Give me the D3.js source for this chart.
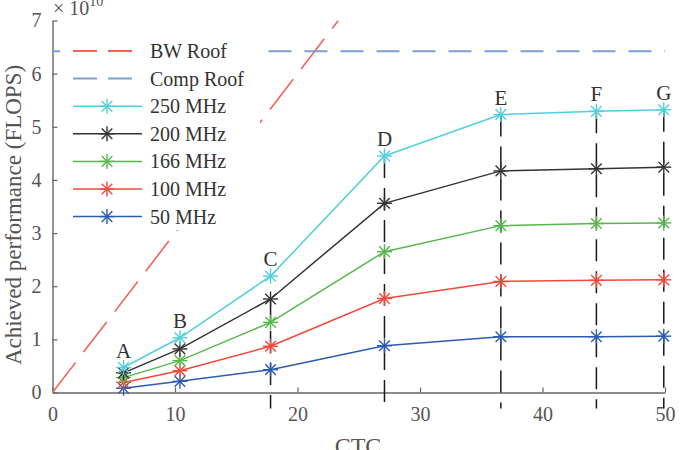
<html>
<head>
    <meta charset="UTF-8">
    <title>Roofline</title>
    <script src="https://d3js.org/d3.v7.min.js"></script>
    <style>
        body { margin: 0; background: #fff; }
        text { font-family: "Liberation Serif", "DejaVu Serif", serif; }
    </style>
</head>
<body>
    <svg width="682" height="450"></svg>
    <script>
        // data (performance in units of 1e10 FLOPS)
        var points = ['A', 'B', 'C', 'D', 'E', 'F', 'G'];
        var ctc = [5.8, 10.4, 17.8, 27.1, 36.6, 44.4, 49.9];
        var f250 = [0.47, 1.03, 2.19, 4.45, 5.23, 5.29, 5.32];
        var f200 = [0.37, 0.82, 1.76, 3.56, 4.17, 4.21, 4.24];
        var f166 = [0.28, 0.60, 1.32, 2.65, 3.14, 3.18, 3.19];
        var f100 = [0.19, 0.41, 0.87, 1.77, 2.09, 2.11, 2.12];
        var f50 = [0.08, 0.21, 0.43, 0.88, 1.05, 1.05, 1.06];
        var seriesNames = ['250 MHz', '200 MHz', '166 MHz', '100 MHz', '50 MHz'];
        var dropFrom = [null, null, '200 MHz', '250 MHz', '250 MHz', '250 MHz', '250 MHz']; // dashed drop lines
        var bwSlope = 0.3;   // BW roof, per unit CTC
        var compRoof = 6.42;
        var xTicks = [0, 10, 20, 30, 40, 50];
        var yTicks = [0, 1, 2, 3, 4, 5, 6, 7];

        var colors = { '250 MHz': '#52cfdf', '200 MHz': '#333333', '166 MHz': '#55b84b',
                       '100 MHz': '#f2493b', '50 MHz': '#2b5bb3' };
        var bwColor = '#f06459', compColor = '#7a9ed6';

        var margin = { top: 20.5, right: 17, bottom: 57.5, left: 52.5 },
            svg = d3.select('svg'),
            width = +svg.attr('width') - margin.left - margin.right,
            height = +svg.attr('height') - margin.top - margin.bottom,
            g = svg.append('g').attr('transform', 'translate(' + margin.left + ',' + margin.top + ')');

        var x = d3.scaleLinear().domain([0, 50]).range([0, width]);
        var y = d3.scaleLinear().domain([0, 7]).range([height, 0]);

        var table = {
            '250 MHz': f250, '200 MHz': f200, '166 MHz': f166, '100 MHz': f100, '50 MHz': f50
        };
        var series = seriesNames.map(function(n) {
            return { name: n, values: ctc.map(function(c, i) { return { x: c, y: table[n][i] }; }) };
        });

        svg.append('defs').append('clipPath').attr('id', 'plot')
            .append('rect').attr('x', -2).attr('y', 0).attr('width', width + 4).attr('height', height + 2);

        // axes
        var axisColor = '#666';
        var xAxis = g.append('g').attr('transform', 'translate(0,' + height + ')')
            .call(d3.axisBottom(x).tickValues(xTicks).tickFormat(d3.format('d'))
                .tickSizeInner(-5).tickSizeOuter(0).tickPadding(14));
        var yAxis = g.append('g')
            .call(d3.axisLeft(y).tickValues(yTicks).tickFormat(d3.format('d'))
                .tickSizeInner(-5).tickSizeOuter(0).tickPadding(11));
        [xAxis, yAxis].forEach(function(a) {
            a.select('.domain').attr('stroke', axisColor).attr('stroke-width', 1.4);
            a.selectAll('.tick line').attr('stroke', axisColor).attr('stroke-width', 1.2);
            a.selectAll('.tick text').attr('fill', '#555').style('font-size', '20px')
                .style('font-family', '"Liberation Serif", serif');
        });
        xAxis.selectAll('.tick text').attr('dy', '0.71em');

        // roof lines
        var line = d3.line().x(function(d) { return x(d.x); }).y(function(d) { return y(d.y); });
        var bwEnd = Math.min(50, 7 / bwSlope);
        g.append('path').datum([{ x: 0, y: 0 }, { x: bwEnd, y: bwEnd * bwSlope }])
            .attr('d', line).attr('fill', 'none').attr('stroke', bwColor)
            .attr('stroke-width', 1.6).attr('stroke-dasharray', '38,13').attr('clip-path', 'url(#plot)');
        g.append('path').datum([{ x: 0, y: compRoof }, { x: 50, y: compRoof }])
            .attr('d', line).attr('fill', 'none').attr('stroke', compColor)
            .attr('stroke-width', 2).attr('stroke-dasharray', '23,13');

        // dashed drop lines
        ctc.forEach(function(c, i) {
            if (!dropFrom[i]) return;
            g.append('path').datum([{ x: c, y: table[dropFrom[i]][i] }, { x: c, y: -0.3 }])
                .attr('d', line).attr('fill', 'none').attr('stroke', '#1a1a1a')
                .attr('stroke-width', 1.5).attr('stroke-dasharray', '22,10');
        });

        // asterisk marker
        function star(sel, r) {
            [0, 45, 90, 135].forEach(function(a) {
                var t = a * Math.PI / 180;
                sel.append('line')
                    .attr('x1', -r * Math.cos(t)).attr('y1', -r * Math.sin(t))
                    .attr('x2', r * Math.cos(t)).attr('y2', r * Math.sin(t));
            });
        }

        // series (drawn low to high so the top ones sit above)
        series.slice().reverse().forEach(function(s) {
            g.append('path').datum(s.values).attr('d', line)
                .attr('fill', 'none').attr('stroke', colors[s.name]).attr('stroke-width', 1.5);
            s.values.forEach(function(d) {
                var m = g.append('g').attr('transform', 'translate(' + x(d.x) + ',' + y(d.y) + ')')
                    .attr('stroke', colors[s.name]).attr('stroke-width', 1.4);
                star(m, 7.5);
            });
        });

        // point letters
        g.selectAll('.pt').data(points).enter().append('text')
            .attr('x', function(d, i) { return x(ctc[i]); })
            .attr('y', function(d, i) { return y(f250[i]) - 10; })
            .attr('text-anchor', 'middle').attr('fill', '#333').style('font-size', '21px')
            .text(function(d) { return d; });

        // legend
        var leg = svg.append('g');
        leg.append('rect').attr('x', 60).attr('y', 36).attr('width', 200).attr('height', 194).attr('fill', '#fff');
        var legItems = [{ name: 'BW Roof', color: bwColor, dash: true }, { name: 'Comp Roof', color: compColor, dash: true }]
            .concat(seriesNames.map(function(n) { return { name: n, color: colors[n], dash: false }; }));
        legItems.forEach(function(d, i) {
            var yy = 51 + i * 27.6;
            var row = leg.append('g').attr('transform', 'translate(0,' + yy + ')');
            row.append('line').attr('x1', 73).attr('x2', d.dash ? 132 : 142).attr('y1', 0).attr('y2', 0)
                .attr('stroke', d.color).attr('stroke-width', d.dash ? 2 : 1.5)
                .attr('stroke-dasharray', d.dash ? '24,11' : null);
            if (!d.dash) {
                var m = row.append('g').attr('transform', 'translate(107,0)')
                    .attr('stroke', d.color).attr('stroke-width', 1.4);
                star(m, 7.5);
            }
            row.append('text').attr('x', 150).attr('y', 7).attr('fill', '#333')
                .style('font-size', '20px').text(d.name);
        });

        // axis titles
        svg.append('text').attr('transform', 'translate(21,' + 215 + ') rotate(-90)')
            .attr('text-anchor', 'middle').attr('fill', '#555').style('font-size', '23px')
            .text('Achieved performance (FLOPS)');
        svg.append('text').attr('x', 358).attr('y', 454).attr('text-anchor', 'middle')
            .attr('fill', '#555').style('font-size', '24px').text('CTC');

        // exponent
        var ex = svg.append('text').attr('x', 53).attr('y', 15).attr('fill', '#555').style('font-size', '20px');
        ex.append('tspan').text('× 10');
        ex.append('tspan').attr('dy', -9).style('font-size', '14px').text('10');
    </script>
</body>
</html>
